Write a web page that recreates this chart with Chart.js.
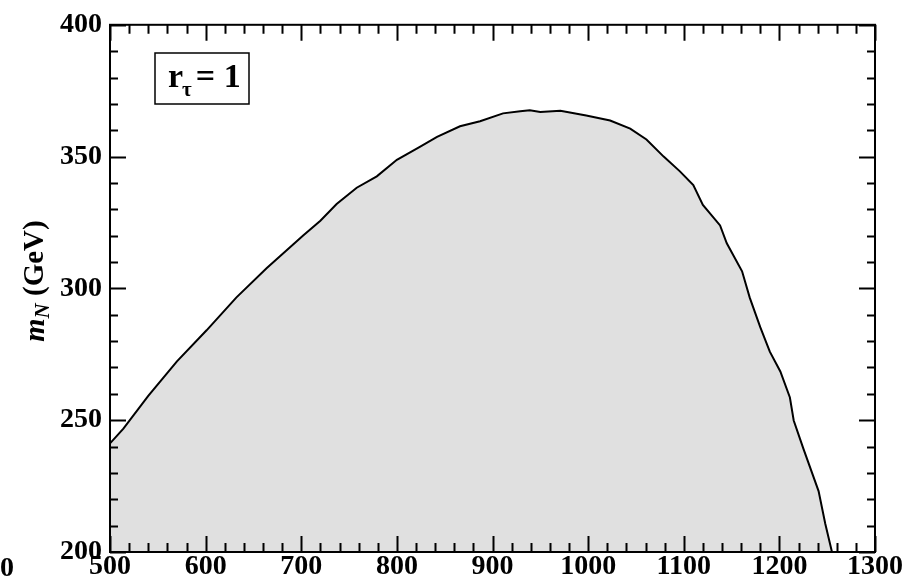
<!DOCTYPE html>
<html>
<head>
<meta charset="utf-8">
<script src="https://cdn.jsdelivr.net/npm/chart.js@4"></script>
<style>
  html, body { margin: 0; padding: 0; background: #fff; }
  #wrap { width: 918px; height: 587px; }
</style>
</head>
<body>
<div id="wrap"><canvas id="chart" width="918" height="587"></canvas></div>
<script>
// boundary curve (x in GeV, m_N in GeV)
const xVals = [500, 514, 540, 570, 601, 632, 664, 702, 720, 737, 758, 779, 800, 824, 842, 866, 887, 911,
  929, 939, 950, 971, 998, 1023, 1044, 1061, 1079, 1096, 1110, 1120, 1138, 1145, 1161, 1169, 1180,
  1190, 1201, 1211, 1215, 1225, 1241, 1248, 1255];
const mN = [241.2, 246.8, 259.2, 272.3, 284.1, 296.5, 307.7, 320.1, 325.7, 332, 338.2, 342.5, 348.8, 353.7,
  357.5, 361.5, 363.4, 366.4, 367.2, 367.6, 366.9, 367.4, 365.6, 363.7, 360.6, 356.5, 350, 344.4, 339.2,
  331.7, 323.9, 317.1, 306.5, 296.5, 285.3, 276, 268.5, 258.6, 249.9, 239.3, 223.1, 210.7, 200];
const xTicks = [500, 600, 700, 800, 900, 1000, 1100, 1200, 1300];
const yTicks = [200, 250, 300, 350, 400];

const points = xVals.map((x, i) => ({ x: x, y: mN[i] }));
const serif = '"Liberation Serif", "Times New Roman", serif';

const decor = {
    id: 'decor',
    afterDraw(chart) {
        const ctx = chart.ctx;
        const xs = chart.scales.x, ys = chart.scales.y;
        const a = chart.chartArea;
        ctx.save();
        ctx.strokeStyle = '#000';
        ctx.lineWidth = 2;
        // inward ticks on all four sides
        ctx.beginPath();
        for (let v = 500; v <= 1300; v += 20) {
            const px = Math.round(xs.getPixelForValue(v)) + 0.5;
            const len = (v % 100 === 0) ? 16 : 9;
            ctx.moveTo(px, a.bottom); ctx.lineTo(px, a.bottom - len);
            ctx.moveTo(px, a.top); ctx.lineTo(px, a.top + len);
        }
        for (let v = 200; v <= 400; v += 10) {
            const py = Math.round(ys.getPixelForValue(v)) + 0.5;
            const len = (v % 50 === 0) ? 16 : 8;
            ctx.moveTo(a.left, py); ctx.lineTo(a.left + len, py);
            ctx.moveTo(a.right, py); ctx.lineTo(a.right - len, py);
        }
        ctx.stroke();
        // frame
        ctx.strokeRect(a.left, a.top, a.right - a.left, a.bottom - a.top);

        // y axis title: m_N (GeV)
        ctx.fillStyle = '#000';
        ctx.translate(36, 281);
        ctx.rotate(-Math.PI / 2);
        ctx.textBaseline = 'middle';
        const f1 = 'italic bold 30px ' + serif;
        const f2 = 'italic bold 21px ' + serif;
        const f3 = 'bold 29px ' + serif;
        ctx.font = f1; const w1 = ctx.measureText('m').width;
        ctx.font = f2; const w2 = ctx.measureText('N').width;
        ctx.font = f3; const w3 = ctx.measureText(' (GeV)').width;
        let sx = -(w1 + w2 + w3) / 2;
        ctx.font = f1; ctx.fillText('m', sx, 0); sx += w1;
        ctx.font = f2; ctx.fillText('N', sx, 8); sx += w2;
        ctx.font = f3; ctx.fillText(' (GeV)', sx, 0);
        ctx.restore();

        // label box r_tau = 1
        ctx.save();
        ctx.strokeStyle = '#000';
        ctx.lineWidth = 1.5;
        ctx.strokeRect(155, 53, 94, 51);
        ctx.fillStyle = '#000';
        ctx.textBaseline = 'alphabetic';
        ctx.font = 'bold 34px ' + serif;
        let tx = 168;
        ctx.fillText('r', tx, 87); tx += ctx.measureText('r').width - 1;
        ctx.font = 'bold 21px ' + serif;
        ctx.fillText('\u03c4', tx, 96); tx += ctx.measureText('\u03c4').width + 4;
        ctx.font = 'bold 34px ' + serif;
        ctx.fillText('= 1', tx, 87);

        // clipped label left over at the bottom-left edge
        ctx.font = 'bold 28px ' + serif;
        ctx.textAlign = 'right';
        ctx.fillText('00', 14, 576);
        ctx.restore();
    }
};

new Chart(document.getElementById('chart').getContext('2d'), {
    type: 'line',
    data: {
        datasets: [{
            data: points,
            borderColor: '#000',
            borderWidth: 2,
            backgroundColor: '#e0e0e0',
            fill: 'start',
            pointRadius: 0,
            tension: 0
        }]
    },
    options: {
        responsive: false,
        animation: false,
        layout: { padding: { top: 16, right: 43, left: 0, bottom: 0 } },
        plugins: { legend: { display: false }, tooltip: { enabled: false } },
        scales: {
            x: {
                type: 'linear', min: 500, max: 1300,
                afterBuildTicks: s => { s.ticks = xTicks.map(v => ({ value: v })); },
                ticks: {
                    color: '#000', font: { family: serif, size: 28, weight: 'bold' },
                    maxRotation: 0, padding: -2, callback: v => String(v)
                },
                grid: { display: false, drawTicks: false },
                border: { display: false },
                afterFit: s => { s.height = 35; }
            },
            y: {
                type: 'linear', min: 200, max: 400,
                afterBuildTicks: s => { s.ticks = yTicks.map(v => ({ value: v })); },
                ticks: {
                    color: '#000', font: { family: serif, size: 28, weight: 'bold' },
                    padding: 8, callback: v => String(v)
                },
                grid: { display: false, drawTicks: false },
                border: { display: false },
                afterFit: s => { s.width = 110; }
            }
        }
    },
    plugins: [decor]
});
</script>
</body>
</html>
